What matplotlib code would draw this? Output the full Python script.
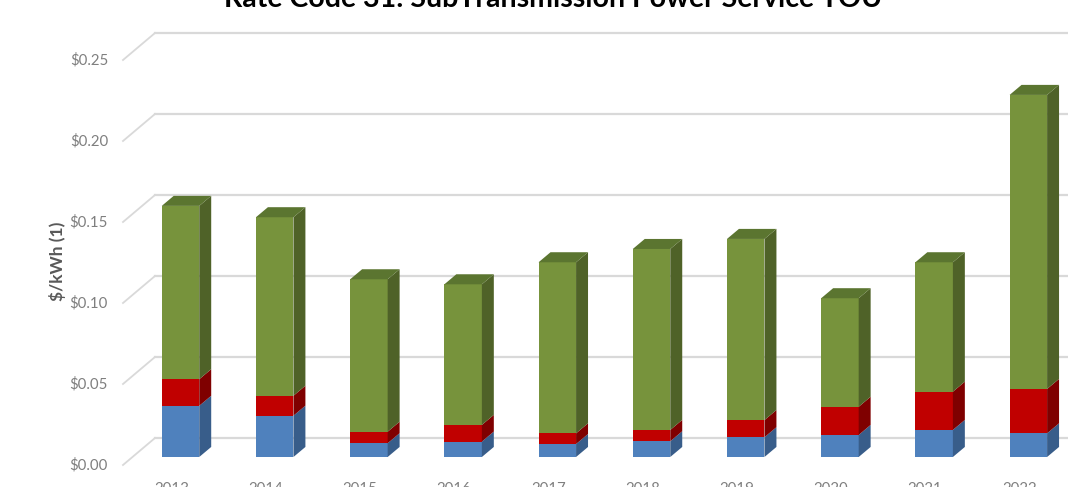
import numpy as np
import matplotlib.pyplot as plt
from matplotlib.patches import Polygon

years = ['2013', '2014', '2015', '2016', '2017', '2018', '2019', '2020', '2021', '2022']
blue = [0.0316, 0.0255, 0.0085, 0.0095, 0.0080, 0.0097, 0.0122, 0.0136, 0.0167, 0.0146]
red = [0.0164, 0.0123, 0.0071, 0.0103, 0.0066, 0.0070, 0.0106, 0.0174, 0.0236, 0.0274]
total = [0.155, 0.148, 0.1097, 0.1066, 0.1202, 0.1284, 0.1346, 0.098, 0.1202, 0.2235]
green = [t - b - r for t, b, r in zip(total, blue, red)]
yticks = [0.0, 0.05, 0.10, 0.15, 0.20, 0.25]
ytick_labels = ['$0.00', '$0.05', '$0.10', '$0.15', '$0.20', '$0.25']

plt.rcParams['font.family'] = ['Lato', 'DejaVu Sans']

fig = plt.figure(figsize=(10.68, 4.87), dpi=100)
ax = fig.add_axes([0, 0, 1, 1])
ax.set_xlim(-1.916, 9.421)
ax.set_ylim(-0.018519, 0.282099)
ax.axis('off')

# fake 3d geometry (data units)
w = 0.398        # bar front width
dx, dy = 0.127, 0.0062   # bar depth
back_dy = 0.011728       # back wall offset for gridlines
front_dy = -0.004938     # front edge offset (tick labels)
gx0, gx1 = -0.6104, -0.2707

grid_c = '#d9d9d9'
for t in yticks:
    ax.plot([gx0, gx1], [t + front_dy, t + back_dy], color=grid_c, lw=1.3, zorder=1)
    ax.plot([gx1, 9.421], [t + back_dy, t + back_dy], color=grid_c, lw=1.6, zorder=1)

x = np.arange(len(years))
segments = [(blue, '#4F81BD', '#385D8A'),
            (red, '#C00000', '#7F0000'),
            (green, '#77933C', '#4F6228')]
bottom = np.zeros(len(years))
for vals, c_front, c_side in segments:
    vals = np.array(vals)
    ax.bar(x, vals, width=w, bottom=bottom, color=c_front, zorder=3)
    for xi, b, v in zip(x, bottom, vals):
        xr = xi + w / 2
        side = [(xr, b), (xr + dx, b + dy), (xr + dx, b + v + dy), (xr, b + v)]
        ax.add_patch(Polygon(side, closed=True, color=c_side, zorder=3, lw=0))
    bottom = bottom + vals

for xi, top in zip(x, bottom):
    xl, xr = xi - w / 2, xi + w / 2
    lid = [(xl, top), (xl + dx, top + dy), (xr + dx, top + dy), (xr, top)]
    ax.add_patch(Polygon(lid, closed=True, color='#5B7530', zorder=3, lw=0))

for t, lab in zip(yticks, ytick_labels):
    ax.text(-0.7696, t + front_dy, lab, ha='right', va='center',
            fontsize=10.8, color='#7f7f7f')

for xi, lab in zip(x, years):
    ax.text(xi - 0.0955, -0.0155, lab, ha='center', va='top',
            fontsize=10.8, color='#7f7f7f')

fig.text(57 / 1068, 1 - 261 / 487, '$/kWh (1)', rotation=90, ha='center', va='center',
         fontsize=12.5, color='#595959', fontweight='bold')

fig.text(553.5 / 1068, 1 - 7 / 487, 'Rate Code 31: SubTransmission Power Service TOU',
         ha='center', va='baseline', fontsize=20.5, fontweight='bold', color='black')

fig.savefig('out.png', dpi=100)
